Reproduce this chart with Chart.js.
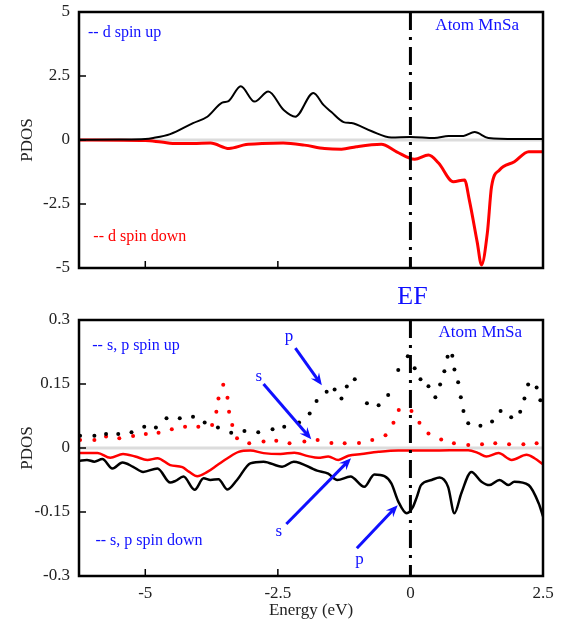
<!DOCTYPE html>
<html><head><meta charset="utf-8">
<script src="https://cdn.jsdelivr.net/npm/chart.js@4.4.1/dist/chart.umd.min.js"></script>
<style>
html,body{margin:0;padding:0;background:#fff;}
#wrap{position:relative;width:562px;height:628px;overflow:hidden;}
canvas{position:absolute;left:0;}
#c1{top:0;}
#c2{top:280px;}
</style></head><body>
<div id="wrap">
<canvas id="c1" width="562" height="280"></canvas>
<canvas id="c2" width="562" height="348"></canvas>
</div>
<script>
// ---- axes / tick labels ----
const xTickValues = [-5, -2.5, 0, 2.5];
const topYTicks = [-5, -2.5, 0, 2.5, 5];
const botYTicks = [-0.3, -0.15, 0, 0.15, 0.3];
const xMin = -6.25, xMax = 2.5;

// ---- top panel: d states ----
const dUpE = [-6.25,-5.5,-5.0,-4.85,-4.53,-4.1,-3.83,-3.55,-3.43,-3.2,-2.94,-2.68,-2.39,-2.17,-1.83,-1.64,-1.49,-1.26,-1.11,-0.74,-0.36,0.0,0.45,0.72,1.0,1.21,1.47,2.0,2.5];
const dUpV = [0.01,0.02,0.04,0.08,0.23,0.66,0.91,1.46,1.52,2.1,1.5,1.89,1.17,0.91,1.84,1.37,1.09,0.7,0.66,0.35,0.1,0.12,0.08,0.16,0.16,0.31,0.08,0.04,0.04];

const dDnE = [-6.25,-5.0,-4.7,-4.4,-4.1,-3.77,-3.42,-3.1,-2.8,-2.4,-2.0,-1.62,-1.3,-1.02,-0.55,-0.26,0.08,0.34,0.53,0.81,1.02,1.11,1.26,1.34,1.45,1.53,1.68,1.96,2.23,2.5];
const dDnV = [0,-0.02,-0.08,-0.14,-0.14,-0.12,-0.33,-0.18,-0.14,-0.12,-0.2,-0.33,-0.36,-0.26,-0.17,-0.46,-0.75,-0.59,-0.9,-1.63,-1.56,-2.34,-4.0,-4.88,-3.64,-1.82,-1.17,-0.85,-0.46,-0.46];

// ---- bottom panel: s, p states ----
const pUpE = [-6.23,-5.96,-5.74,-5.51,-5.26,-5.02,-4.8,-4.6,-4.35,-4.1,-3.88,-3.63,-3.38,-3.13,-2.87,-2.6,-2.38,-2.1,-1.9,-1.77,-1.58,-1.43,-1.3,-1.2,-1.05,-0.82,-0.6,-0.42,-0.23,-0.05,0.08,0.19,0.34,0.47,0.56,0.64,0.7,0.79,0.83,0.9,0.95,1.0,1.09,1.32,1.54,1.7,1.9,2.07,2.15,2.22,2.38,2.45];
const pUpV = [0.029,0.029,0.033,0.033,0.037,0.05,0.048,0.07,0.07,0.073,0.06,0.048,0.036,0.04,0.037,0.044,0.05,0.06,0.081,0.11,0.132,0.137,0.116,0.144,0.161,0.105,0.1,0.124,0.183,0.215,0.187,0.161,0.145,0.119,0.149,0.18,0.214,0.216,0.184,0.154,0.119,0.087,0.058,0.052,0.062,0.087,0.072,0.085,0.116,0.149,0.142,0.112];

const sUpE = [-6.23,-5.96,-5.74,-5.49,-5.23,-4.99,-4.75,-4.5,-4.25,-4.0,-3.74,-3.66,-3.62,-3.53,-3.45,-3.42,-3.36,-3.27,-3.04,-2.77,-2.53,-2.28,-2.0,-1.75,-1.49,-1.24,-0.97,-0.72,-0.47,-0.32,-0.22,0.02,0.17,0.34,0.58,0.82,1.09,1.35,1.6,1.86,2.13,2.38];
const sUpV = [0.019,0.019,0.027,0.023,0.028,0.033,0.036,0.044,0.05,0.05,0.054,0.085,0.116,0.148,0.118,0.085,0.054,0.023,0.011,0.015,0.017,0.011,0.015,0.019,0.012,0.011,0.012,0.019,0.03,0.059,0.089,0.087,0.059,0.034,0.02,0.011,0.007,0.009,0.011,0.009,0.009,0.011];

const sDnE = [-6.25,-5.9,-5.66,-5.42,-5.19,-4.96,-4.77,-4.53,-4.3,-4.17,-4.02,-3.83,-3.64,-3.45,-3.24,-3.02,-2.77,-2.45,-2.19,-1.93,-1.74,-1.55,-1.36,-1.17,-0.92,-0.6,-0.23,0.4,1.09,1.28,1.43,1.66,1.91,2.19,2.34,2.5];
const sDnV = [-0.012,-0.012,-0.023,-0.014,-0.02,-0.028,-0.024,-0.04,-0.045,-0.056,-0.066,-0.056,-0.04,-0.024,-0.009,-0.006,-0.012,-0.014,-0.011,-0.019,-0.023,-0.02,-0.028,-0.018,-0.014,-0.009,-0.006,-0.006,-0.005,-0.012,-0.02,-0.012,-0.028,-0.016,-0.024,-0.038];

const pDnE = [-6.25,-6.1,-5.96,-5.81,-5.62,-5.43,-5.23,-5.04,-4.77,-4.53,-4.43,-4.28,-4.07,-3.9,-3.77,-3.62,-3.45,-3.27,-3.02,-2.77,-2.42,-2.2,-1.76,-1.55,-1.38,-1.13,-0.87,-0.68,-0.49,-0.36,-0.23,-0.07,0.04,0.12,0.2,0.4,0.55,0.71,0.83,0.96,1.15,1.34,1.49,1.68,1.85,1.96,2.23,2.42,2.5];
const pDnV = [-0.03,-0.028,-0.032,-0.026,-0.048,-0.034,-0.044,-0.056,-0.048,-0.081,-0.077,-0.067,-0.098,-0.071,-0.075,-0.073,-0.097,-0.075,-0.036,-0.032,-0.044,-0.032,-0.053,-0.06,-0.075,-0.067,-0.091,-0.062,-0.066,-0.083,-0.125,-0.153,-0.14,-0.115,-0.087,-0.075,-0.069,-0.091,-0.153,-0.106,-0.056,-0.079,-0.087,-0.075,-0.087,-0.079,-0.087,-0.13,-0.16];

const toXY = (xs, ys) => xs.map((x, i) => ({x, y: ys[i]}));

const SERIF = "'Liberation Serif', 'Times New Roman', serif";
const BLUE = '#1010ff';

function decoPlugin(cfg) {
  return {
    id: 'deco',
    beforeDatasetsDraw(chart) {
      const {ctx, chartArea: a, scales: {y}} = chart;
      const y0 = y.getPixelForValue(0);
      ctx.save();
      ctx.strokeStyle = '#dcdcdc';
      ctx.lineWidth = 3;
      ctx.beginPath(); ctx.moveTo(a.left, y0); ctx.lineTo(a.right, y0); ctx.stroke();
      ctx.restore();
    },
    afterDatasetsDraw(chart) {
      const {ctx, chartArea: a, scales: {x, y}} = chart;
      ctx.save();
      // Fermi level dash-dot line
      const x0 = x.getPixelForValue(0);
      ctx.strokeStyle = '#000'; ctx.lineWidth = 3;
      ctx.setLineDash([18, 7, 3, 7]);
      ctx.beginPath(); ctx.moveTo(x0, a.top); ctx.lineTo(x0, a.bottom); ctx.stroke();
      ctx.setLineDash([]);
      // inward ticks
      ctx.lineWidth = 1.5;
      ctx.beginPath();
      xTickValues.forEach(v => { const px = x.getPixelForValue(v); ctx.moveTo(px, a.bottom); ctx.lineTo(px, a.bottom - 7); });
      cfg.yTicks.forEach(v => { const py = y.getPixelForValue(v); ctx.moveTo(a.left, py); ctx.lineTo(a.left + 7, py); });
      ctx.stroke();
      // frame
      ctx.lineWidth = 2.5;
      ctx.strokeRect(a.left, a.top, a.right - a.left, a.bottom - a.top);
      // texts
      ctx.textBaseline = 'middle';
      cfg.texts.forEach(t => {
        ctx.font = t.size + 'px ' + SERIF;
        ctx.fillStyle = t.color;
        ctx.textAlign = t.align || 'left';
        ctx.fillText(t.text, x.getPixelForValue(t.x), y.getPixelForValue(t.y));
      });
      // arrows
      ctx.strokeStyle = BLUE; ctx.fillStyle = BLUE; ctx.lineWidth = 3;
      (cfg.arrows || []).forEach(ar => {
        const x1 = x.getPixelForValue(ar.x1), y1 = y.getPixelForValue(ar.y1);
        const x2 = x.getPixelForValue(ar.x2), y2 = y.getPixelForValue(ar.y2);
        const ang = Math.atan2(y2 - y1, x2 - x1);
        ctx.beginPath(); ctx.moveTo(x1, y1); ctx.lineTo(x2 - 4 * Math.cos(ang), y2 - 4 * Math.sin(ang)); ctx.stroke();
        const L = 13, w = 0.4;
        ctx.beginPath();
        ctx.moveTo(x2, y2);
        ctx.lineTo(x2 - L * Math.cos(ang - w), y2 - L * Math.sin(ang - w));
        ctx.lineTo(x2 - 0.6 * L * Math.cos(ang), y2 - 0.6 * L * Math.sin(ang));
        ctx.lineTo(x2 - L * Math.cos(ang + w), y2 - L * Math.sin(ang + w));
        ctx.closePath(); ctx.fill();
      });
      if (cfg.ef) {
        ctx.font = '26px ' + SERIF; ctx.fillStyle = BLUE; ctx.textAlign = 'center';
        ctx.fillText('EF', x0 + 2, a.top - 23);
      }
      ctx.restore();
    }
  };
}

function makeOptions(yMin, yMax, yTicks, showX, xAxisH, padTop) {
  return {
    responsive: false, animation: false, devicePixelRatio: 1,
    layout: {padding: {left: 0, right: 19, top: padTop, bottom: 0}},
    plugins: {legend: {display: false}, tooltip: {enabled: false}},
    scales: {
      x: {
        type: 'linear', min: xMin, max: xMax,
        afterBuildTicks: s => { s.ticks = xTickValues.map(v => ({value: v})); },
        afterFit: s => { s.height = xAxisH; s.paddingLeft = 0; s.paddingRight = 0; s.paddingTop = 0; s.paddingBottom = 0; },
        grid: {display: false, drawTicks: false}, border: {display: false},
        ticks: {display: showX, padding: 7, color: '#222', font: {family: SERIF, size: 17}, callback: v => String(v), maxRotation: 0},
        title: {display: showX, text: 'Energy (eV)', color: '#222', font: {family: SERIF, size: 17}, padding: {top: 0, bottom: 7}}
      },
      y: {
        type: 'linear', min: yMin, max: yMax,
        afterBuildTicks: s => { s.ticks = yTicks.map(v => ({value: v})); },
        afterFit: s => { s.width = 79; s.paddingTop = 0; s.paddingBottom = 0; s.paddingLeft = 0; s.paddingRight = 0; },
        grid: {display: false, drawTicks: false}, border: {display: false},
        ticks: {padding: 9, color: '#222', font: {family: SERIF, size: 17}, callback: v => String(v)},
        title: {display: true, text: 'PDOS', color: '#222', font: {family: SERIF, size: 17}, padding: {top: 17, bottom: 0}}
      }
    }
  };
}

new Chart(document.getElementById('c1'), {
  type: 'line',
  data: {datasets: [
    {data: toXY(dUpE, dUpV), borderColor: '#000', borderWidth: 2, pointRadius: 0, cubicInterpolationMode: 'monotone', fill: false},
    {data: toXY(dDnE, dDnV), borderColor: '#ff0000', borderWidth: 3, pointRadius: 0, cubicInterpolationMode: 'monotone', fill: false}
  ]},
  options: makeOptions(-5, 5, topYTicks, false, 12, 12),
  plugins: [decoPlugin({
    yTicks: topYTicks,
    texts: [
      {text: '-- d spin up', x: -6.08, y: 4.17, size: 16, color: BLUE},
      {text: '-- d spin down', x: -5.98, y: -3.79, size: 16, color: '#ff0000'},
      {text: 'Atom MnSa', x: 0.47, y: 4.48, size: 17, color: BLUE}
    ]
  })]
});

new Chart(document.getElementById('c2'), {
  type: 'line',
  data: {datasets: [
    {data: toXY(pUpE, pUpV), showLine: false, pointRadius: 2, pointStyle: 'circle', pointBackgroundColor: '#000', pointBorderWidth: 0},
    {data: toXY(sUpE, sUpV), showLine: false, pointRadius: 2, pointStyle: 'circle', pointBackgroundColor: '#ff0000', pointBorderWidth: 0},
    {data: toXY(sDnE, sDnV), borderColor: '#ff0000', borderWidth: 2.5, pointRadius: 0, cubicInterpolationMode: 'monotone', fill: false},
    {data: toXY(pDnE, pDnV), borderColor: '#000', borderWidth: 2.5, pointRadius: 0, cubicInterpolationMode: 'monotone', fill: false}
  ]},
  options: makeOptions(-0.3, 0.3, botYTicks, true, 52, 40),
  plugins: [decoPlugin({
    yTicks: botYTicks,
    ef: true,
    texts: [
      {text: '-- s, p spin up', x: -6.0, y: 0.239, size: 16, color: BLUE},
      {text: '-- s, p spin down', x: -5.94, y: -0.217, size: 16, color: BLUE},
      {text: 'Atom MnSa', x: 0.53, y: 0.27, size: 17, color: BLUE},
      {text: 'p', x: -2.29, y: 0.261, size: 17, color: BLUE, align: 'center'},
      {text: 's', x: -2.86, y: 0.167, size: 17, color: BLUE, align: 'center'},
      {text: 's', x: -2.48, y: -0.196, size: 17, color: BLUE, align: 'center'},
      {text: 'p', x: -0.96, y: -0.262, size: 17, color: BLUE, align: 'center'}
    ],
    arrows: [
      {x1: -2.17, y1: 0.234, x2: -1.67, y2: 0.147},
      {x1: -2.77, y1: 0.15, x2: -1.87, y2: 0.0204},
      {x1: -2.34, y1: -0.178, x2: -1.12, y2: -0.024},
      {x1: -1.01, y1: -0.235, x2: -0.24, y2: -0.134}
    ]
  })]
});
</script>
</body></html>
